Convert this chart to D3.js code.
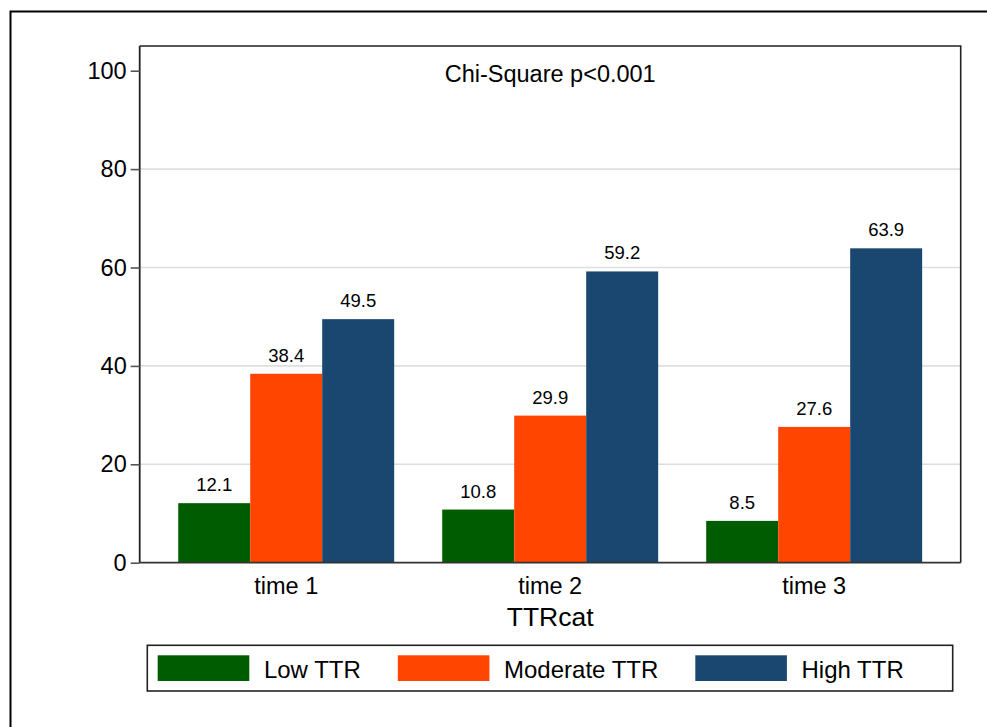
<!DOCTYPE html>
<html>
<head>
<meta charset="utf-8">
<script src="https://cdn.jsdelivr.net/npm/d3@7"></script>
<style>
  html, body { margin: 0; padding: 0; background: #fff; }
  svg { display: block; font-family: "Liberation Sans", Arial, Helvetica, sans-serif; }
</style>
</head>
<body>
<svg id="chart" width="987" height="727"></svg>
<script>
// TTR category shares (%) at each time point
const categories = ["time 1", "time 2", "time 3"];
const seriesNames = ["Low TTR", "Moderate TTR", "High TTR"];
const lowTTR = [12.1, 10.8, 8.5];
const moderateTTR = [38.4, 29.9, 27.6];
const highTTR = [49.5, 59.2, 63.9];
const yTicks = [0, 20, 40, 60, 80, 100];
const gridValues = [20, 40, 60, 80];
const colors = ["#005c00", "#ff4500", "#1a476f"];
const titleText = "Chi-Square p<0.001";
const xAxisTitle = "TTRcat";

const seriesValues = [lowTTR, moderateTTR, highTTR];
const rows = categories.map((c, i) => ({
  category: c,
  values: seriesNames.map((s, k) => ({ series: s, k, value: seriesValues[k][i] }))
}));

const svg = d3.select("#chart");

// outer graph frame (runs off the right and bottom edges)
svg.append("rect")
  .attr("x", 10.5).attr("y", 11.5)
  .attr("width", 1000).attr("height", 800)
  .attr("fill", "#fff").attr("stroke", "#000").attr("stroke-width", 2);

const plot = { left: 139.7, right: 960.7, top: 46, bottom: 562.7 };

const x0 = d3.scaleBand()
  .domain(categories)
  .range([plot.left, plot.right])
  .paddingInner(0.182)
  .paddingOuter(0.146);

const x1 = d3.scaleBand()
  .domain(seriesNames)
  .range([0, x0.bandwidth()])
  .padding(0);

const y = d3.scaleLinear().domain([0, 100]).range([plot.bottom, 70.7]);

// plot region
svg.append("rect")
  .attr("x", plot.left).attr("y", plot.top)
  .attr("width", plot.right - plot.left).attr("height", plot.bottom - plot.top)
  .attr("fill", "#fff");

// gridlines
svg.append("g")
  .selectAll("line")
  .data(gridValues)
  .join("line")
  .attr("x1", plot.left).attr("x2", plot.right)
  .attr("y1", d => y(d)).attr("y2", d => y(d))
  .attr("stroke", "#dedede").attr("stroke-width", 1.6);

// bars
const groups = svg.append("g")
  .selectAll("g")
  .data(rows)
  .join("g")
  .attr("transform", d => `translate(${x0(d.category)},0)`);

groups.selectAll("rect")
  .data(d => d.values)
  .join("rect")
  .attr("x", d => x1(d.series))
  .attr("y", d => y(d.value))
  .attr("width", x1.bandwidth())
  .attr("height", d => y(0) - y(d.value))
  .attr("fill", d => colors[d.k]);

// value labels
groups.selectAll("text")
  .data(d => d.values)
  .join("text")
  .attr("x", d => x1(d.series) + x1.bandwidth() / 2)
  .attr("y", d => y(d.value) - 12)
  .attr("text-anchor", "middle")
  .attr("font-size", 18.5)
  .attr("fill", "#000")
  .text(d => d.value.toFixed(1));

// plot border (top and right)
svg.append("path")
  .attr("d", `M${plot.left},${plot.top}H${plot.right}V${plot.bottom}`)
  .attr("fill", "none").attr("stroke", "#222").attr("stroke-width", 1.6);

// y axis
const yAxis = svg.append("g")
  .attr("transform", `translate(${plot.left},0)`)
  .call(d3.axisLeft(y).tickValues(yTicks).tickSize(9).tickPadding(4).tickFormat(d3.format("d")));
yAxis.select(".domain").attr("stroke", "#222").attr("stroke-width", 1.8)
  .attr("d", `M0,${plot.top}V${plot.bottom}`);
yAxis.selectAll(".tick line").attr("stroke", "#555").attr("stroke-width", 1.6);
yAxis.selectAll(".tick text")
  .attr("font-size", 23.5).attr("fill", "#000")
  .attr("font-family", "'Liberation Sans', Arial, sans-serif");

// x axis
const xAxis = svg.append("g")
  .attr("transform", `translate(0,${plot.bottom})`)
  .call(d3.axisBottom(x0).tickSize(0).tickPadding(15));
xAxis.select(".domain").attr("stroke", "#333").attr("stroke-width", 1.8)
  .attr("d", `M${plot.left},0H${plot.right}`);
xAxis.selectAll(".tick text")
  .attr("font-size", 23.5).attr("fill", "#000")
  .attr("font-family", "'Liberation Sans', Arial, sans-serif");

svg.append("text")
  .attr("x", (plot.left + plot.right) / 2)
  .attr("y", 626)
  .attr("text-anchor", "middle")
  .attr("font-size", 26.5)
  .text(xAxisTitle);

// annotation inside the plot
svg.append("text")
  .attr("x", (plot.left + plot.right) / 2)
  .attr("y", 81.7)
  .attr("text-anchor", "middle")
  .attr("font-size", 23.5)
  .text(titleText);

// legend
const legend = { left: 147.3, top: 645.3, right: 952.7, bottom: 691 };
svg.append("rect")
  .attr("x", legend.left).attr("y", legend.top)
  .attr("width", legend.right - legend.left).attr("height", legend.bottom - legend.top)
  .attr("fill", "#fff").attr("stroke", "#222").attr("stroke-width", 1.6);

const keyW = 91.6, keyH = 25.7, keyGap = 14.6, itemGap = 37;
let cx = 157.7;
seriesNames.forEach((name, k) => {
  svg.append("rect")
    .attr("x", cx).attr("y", 655.3)
    .attr("width", keyW).attr("height", keyH)
    .attr("fill", colors[k]);
  const t = svg.append("text")
    .attr("x", cx + keyW + keyGap)
    .attr("y", 677.5)
    .attr("font-size", 24)
    .text(name);
  cx = cx + keyW + keyGap + t.node().getComputedTextLength() + itemGap;
});
</script>
</body>
</html>
